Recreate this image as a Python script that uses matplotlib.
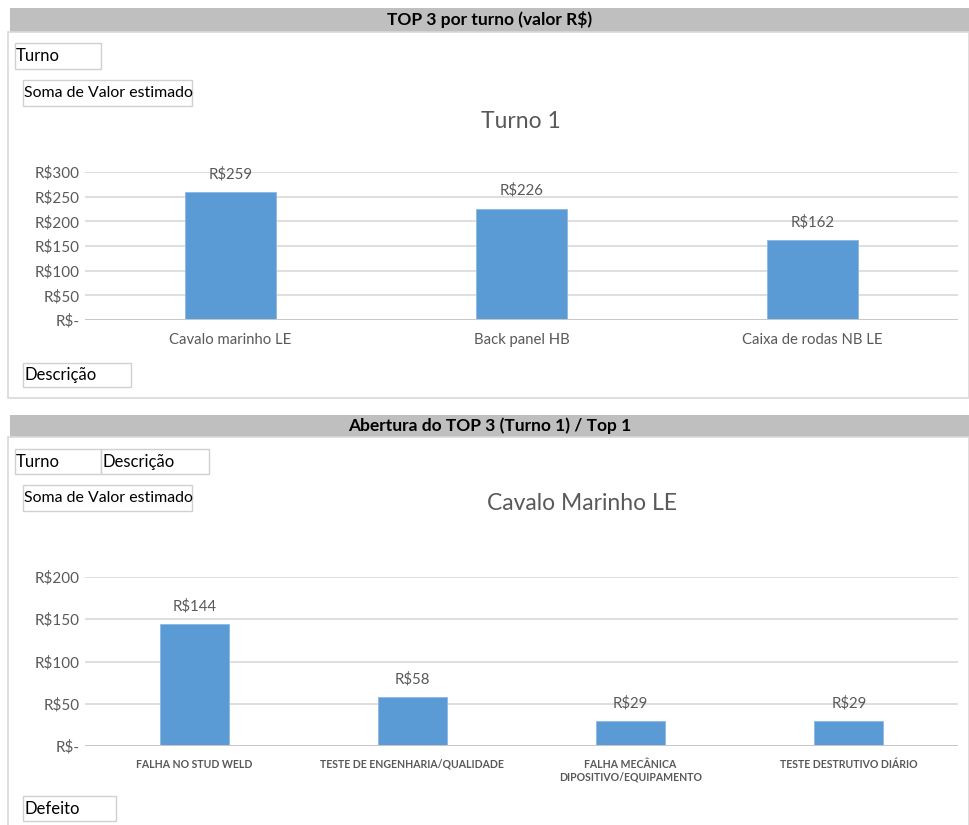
import matplotlib
matplotlib.use("Agg")
import matplotlib.pyplot as plt
from matplotlib.patches import Rectangle
import numpy as np

plt.rcParams['font.family'] = ['Lato', 'DejaVu Sans']

# Top 3 items by shift
turno_categories = ["Cavalo marinho LE", "Back panel HB", "Caixa de rodas NB LE"]
turno_values = [259, 226, 162]
turno_ticks = [0, 50, 100, 150, 200, 250, 300]

# Breakdown of the top item by defect
defeito_categories = ["FALHA NO STUD WELD", "TESTE DE ENGENHARIA/QUALIDADE",
                      "FALHA MECÂNICA\nDIPOSITIVO/EQUIPAMENTO", "TESTE DESTRUTIVO DIÁRIO"]
defeito_values = [144, 58, 29, 29]
defeito_ticks = [0, 50, 100, 150, 200]

W, H = 969, 825
fig = plt.figure(figsize=(W / 100, H / 100), dpi=100)
fig.patch.set_facecolor("white")

BAR = "#5B9BD5"
GRID = "#D9D9D9"
TXT = "#595959"


def fx(x):
    return x / W


def fy(y):
    return 1 - y / H


def rect_px(x0, y0, x1, y1, **kw):
    fig.patches.append(Rectangle((fx(x0), fy(y1)), fx(x1 - x0), (y1 - y0) / H,
                                 transform=fig.transFigure, **kw))


def header(y0, y1, text):
    rect_px(10, y0, 969, y1, facecolor="#BFBFBF", edgecolor="none")
    fig.text(fx(490), fy((y0 + y1) / 2), text, ha="center", va="center",
             fontsize=12.5, fontweight="bold", color="black")


def field_box(x0, y0, x1, y1, text, size=12):
    rect_px(x0, y0, x1, y1, facecolor="white", edgecolor="#D0D0D0", linewidth=1)
    fig.text(fx(x0 + 1), fy((y0 + y1) / 2), text, ha="left", va="center",
             fontsize=size, color="black")


def money(v):
    return "R$-" if v == 0 else f"R${v:g}"


def bar_axes(top_px, bottom_px, cats, vals, ticks, width, xsize, xweight):
    ax = fig.add_axes([fx(85), fy(bottom_px), fx(958 - 85), (bottom_px - top_px) / H])
    x = np.arange(len(cats))
    ax.bar(x, vals, width=width, color=BAR, edgecolor="#8DB8E2", linewidth=0.6, zorder=3)
    ax.set_xlim(-0.5, len(cats) - 0.5)
    ax.set_ylim(ticks[0], ticks[-1])
    ax.set_yticks(ticks)
    ax.set_yticklabels([money(t) for t in ticks], fontsize=11, color=TXT)
    ax.set_xticks(x)
    ax.set_xticklabels(cats, fontsize=xsize, color=TXT, fontweight=xweight,
                       linespacing=1.25)
    ax.tick_params(length=0, pad=4)
    ax.tick_params(axis="x", pad=9)
    ax.grid(axis="y", color=GRID, linewidth=1.2, zorder=0)
    for s in ax.spines.values():
        s.set_visible(False)
    ax.axhline(0, color="#C8C8C8", linewidth=1.4, zorder=4)
    ax.patch.set_alpha(0)
    for xi, v in zip(x, vals):
        ax.annotate(money(v), (xi, v), xytext=(0, 13), textcoords="offset points",
                    ha="center", va="center", fontsize=10.8, color=TXT)
    return ax


# Panel 1: top 3 by shift
header(8, 32, "TOP 3 por turno (valor R$)")
rect_px(8, 32, 969, 398, facecolor="none", edgecolor="#D9D9D9", linewidth=1.2)
field_box(15, 43, 101, 69, "Turno", 12)
field_box(23, 80, 192, 106, "Soma de Valor estimado", 11.4)
fig.text(fx(521), fy(121), "Turno 1", ha="center", va="center", fontsize=16.5, color=TXT)
bar_axes(172, 320, turno_categories, turno_values, turno_ticks, 0.31, 10.7, "normal")
field_box(23, 363, 131, 387, "Descrição", 12)

# Panel 2: top item breakdown by defect
header(415, 437, "Abertura do TOP 3 (Turno 1) / Top 1")
rect_px(8, 437, 969, 830, facecolor="none", edgecolor="#D9D9D9", linewidth=1.2)
field_box(15, 449, 101, 474, "Turno", 12)
field_box(101, 449, 209, 474, "Descrição", 12)
field_box(23, 485, 192, 511, "Soma de Valor estimado", 11.4)
fig.text(fx(582), fy(503), "Cavalo Marinho LE", ha="center", va="center", fontsize=16.5, color=TXT)
ax2 = bar_axes(577, 746, defeito_categories, defeito_values, defeito_ticks, 0.316, 7.6, "bold")
for lbl in ax2.get_xticklabels():
    lbl.set_verticalalignment("top")
field_box(23, 796, 116, 821, "Defeito", 12)

fig.savefig("out.png", dpi=100, facecolor="white")
